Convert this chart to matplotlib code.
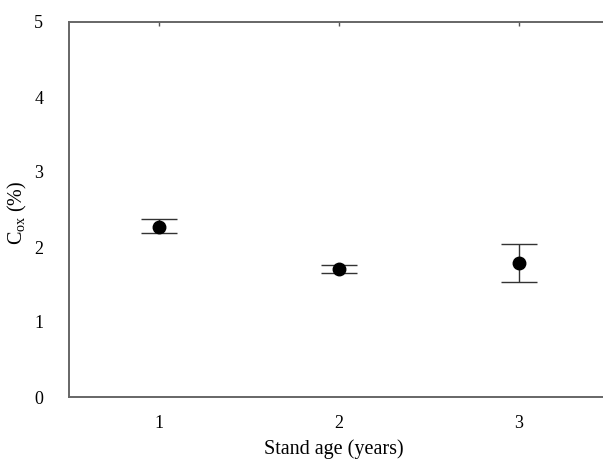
import numpy as np
import matplotlib
matplotlib.use("Agg")
import matplotlib.pyplot as plt

# --- Data ---
stand_age = [1, 2, 3]
c_ox      = [2.27, 1.71, 1.79]
err_low   = [0.08, 0.06, 0.26]
err_high  = [0.10, 0.05, 0.25]
y_ticks   = [0, 1, 2, 3, 4, 5]

# --- Style ---
plt.rcParams["font.family"] = ["Liberation Serif", "DejaVu Serif"]
plt.rcParams["mathtext.fontset"] = "custom"
plt.rcParams["mathtext.rm"] = "Liberation Serif"
plt.rcParams["mathtext.it"] = "Liberation Serif:italic"

fig = plt.figure(figsize=(6.03, 4.61), dpi=100)
ax = fig.add_axes([69 / 603, 64 / 461, 540 / 603, 375 / 461])

ax.errorbar(stand_age, c_ox, yerr=[err_low, err_high],
            fmt="o", color="black", markersize=9,
            ecolor="#333333", elinewidth=1.0, capsize=13, capthick=1.0)

ax.set_xlim(0.5, 3.5)
ax.set_ylim(0, 5)
ax.set_xticks(stand_age)
ax.set_yticks(y_ticks)

ax.tick_params(axis="x", bottom=False, top=True, direction="in",
               length=3, width=1, color="#555555", labelsize=13, pad=13)
ax.tick_params(axis="y", left=False, labelsize=13, pad=15)

for s in ax.spines.values():
    s.set_color("#666666")
    s.set_linewidth(1.4)

ax.set_xlabel("Stand age (years)", fontsize=14.5, va="center")
ax.set_ylabel(r"C$_{\mathrm{ox}}$ (%)", fontsize=14.5, va="center")
ax.xaxis.set_label_coords(0.5 - 5 / 540, -52 / 375)
ax.yaxis.set_label_coords(-52 / 540, 0.49)

fig.savefig("out.png", dpi=100)
plt.close(fig)
